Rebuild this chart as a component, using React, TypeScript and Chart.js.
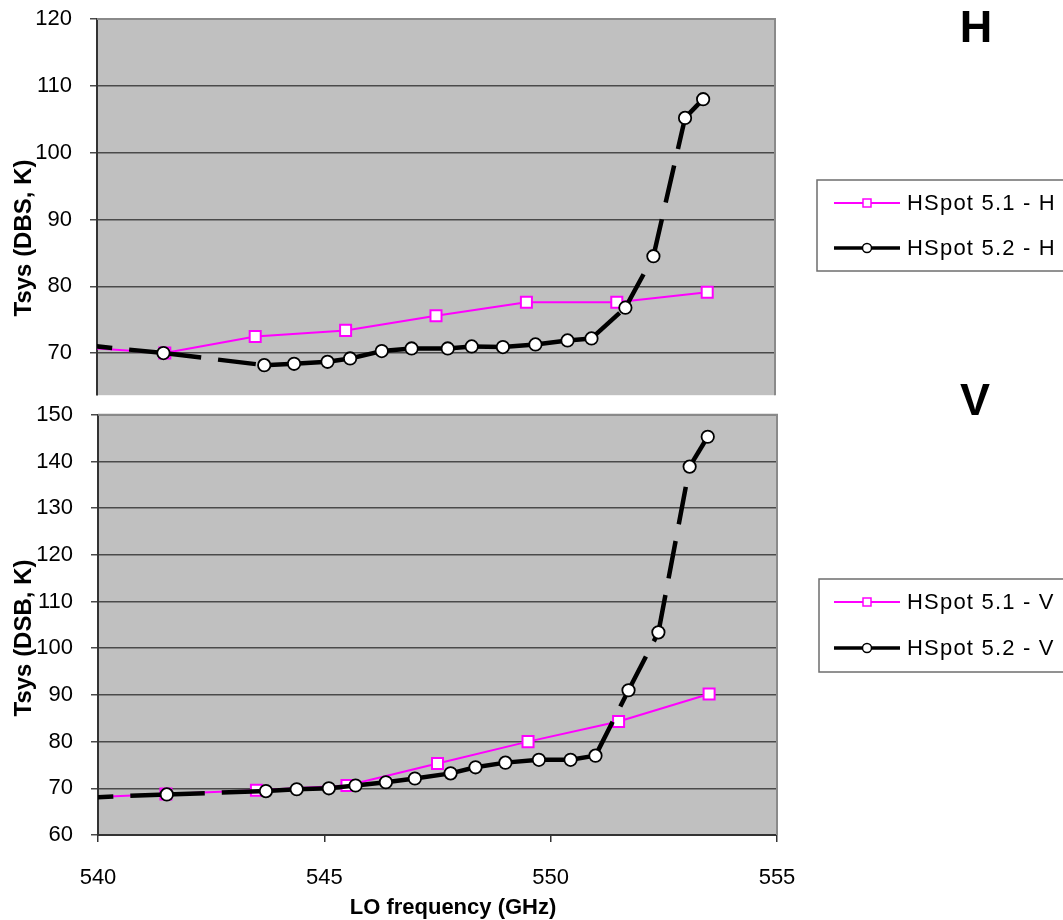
import React, { useEffect, useRef } from "react";
import { Chart, registerables } from "chart.js";

Chart.register(...registerables);

const FONT = "'Liberation Sans', Arial, Helvetica, sans-serif";
const MAGENTA = "#ff00ff";

// HSpot 5.1 predictions on a 2 GHz grid (GHz)
const freq51 = [539.5, 541.5, 543.5, 545.5, 547.5, 549.5, 551.5, 553.5];
const tsys51H = [70.9, 70.0, 72.5, 73.4, 75.6, 77.6, 77.6, 79.1];
const tsys51V = [67.9, 68.8, 69.6, 70.6, 75.3, 80.0, 84.3, 90.2];

// HSpot 5.2 predictions at the measured LO settings (GHz)
const freq52H = [539.5, 541.47, 543.7, 544.36, 545.1, 545.6, 546.3, 546.96, 547.76, 548.29, 548.98, 549.7, 550.41, 550.94, 551.69, 552.31, 553.01, 553.41];
const tsys52H = [71.35, 70.0, 68.2, 68.4, 68.7, 69.2, 70.3, 70.7, 70.7, 71.0, 70.9, 71.3, 71.9, 72.2, 76.8, 84.5, 105.2, 108.0];
const freq52V = [539.5, 541.52, 543.71, 544.39, 545.1, 545.69, 546.36, 547.0, 547.79, 548.34, 549.0, 549.74, 550.44, 550.99, 551.72, 552.38, 553.07, 553.47];
const tsys52V = [67.9, 68.7, 69.4, 69.8, 70.0, 70.6, 71.3, 72.1, 73.2, 74.5, 75.5, 76.1, 76.1, 77.0, 91.0, 103.4, 138.9, 145.3];

// Axis ranges and tick labels
const xRange = [540, 555];
const xStep = 5;
const yRangeH = [63.7, 120];
const yRangeV = [60, 150];
const yStep = 10;

const legendH = ["HSpot 5.1 - H", "HSpot 5.2 - H"];
const legendV = ["HSpot 5.1 - V", "HSpot 5.2 - V"];
const yTitleH = "Tsys (DBS, K)";
const yTitleV = "Tsys (DSB, K)";
const xTitle = "LO frequency (GHz)";

type PanelSpec = {
  height: number;
  padding: { left: number; right: number; top: number; bottom: number };
  axisWidth: number;
  yRange: number[];
  showX: boolean;
  f52: number[];
  v51: number[];
  v52: number[];
  labels: string[];
  yTitle: string;
  yTitleY: number;
  legendBox: { x: number; y: number; h: number };
  legendRows: number[];
  xTitleY?: number;
};

const pts = (xs: number[], ys: number[]) => xs.map((x, i) => ({ x, y: ys[i] }));

function drawLegend(ctx: CanvasRenderingContext2D, spec: PanelSpec) {
  const { x, y, h } = spec.legendBox;
  ctx.save();
  ctx.strokeStyle = "#6e6e6e";
  ctx.lineWidth = 1.5;
  ctx.strokeRect(x, y, 300, h);
  const rows = [
    { color: MAGENTA, width: 2, marker: "rect" },
    { color: "#000", width: 3.5, marker: "circle" },
  ];
  rows.forEach((r, i) => {
    const ry = spec.legendRows[i];
    ctx.strokeStyle = r.color;
    ctx.lineWidth = r.width;
    ctx.beginPath();
    ctx.moveTo(834, ry);
    ctx.lineTo(900, ry);
    ctx.stroke();
    ctx.fillStyle = "#fff";
    ctx.lineWidth = 1.5;
    if (r.marker === "rect") {
      ctx.fillRect(863, ry - 4, 8, 8);
      ctx.strokeRect(863, ry - 4, 8, 8);
    } else {
      ctx.beginPath();
      ctx.arc(867, ry, 4.5, 0, Math.PI * 2);
      ctx.fill();
      ctx.stroke();
    }
    ctx.fillStyle = "#000";
    ctx.font = `22px ${FONT}`;
    (ctx as any).letterSpacing = "1.2px";
    ctx.textAlign = "left";
    ctx.textBaseline = "middle";
    ctx.fillText(spec.labels[i], 907, ry + 1);
    (ctx as any).letterSpacing = "0px";
  });
  ctx.restore();
}

function decor(spec: PanelSpec) {
  return {
    id: "panelDecor",
    beforeDraw(chart: any) {
      const { ctx, chartArea: a } = chart;
      ctx.save();
      ctx.fillStyle = "#c0c0c0";
      ctx.fillRect(a.left, a.top, a.right - a.left, a.bottom - a.top);
      ctx.restore();
    },
    beforeDatasetsDraw(chart: any) {
      const { ctx, chartArea: a } = chart;
      ctx.save();
      ctx.strokeStyle = "#8a8a8a";
      ctx.lineWidth = 2;
      ctx.beginPath();
      ctx.moveTo(a.left, a.top);
      ctx.lineTo(a.right, a.top);
      ctx.lineTo(a.right, a.bottom);
      ctx.stroke();
      ctx.restore();
    },
    afterDraw(chart: any) {
      const { ctx } = chart;
      ctx.save();
      ctx.fillStyle = "#000";
      ctx.font = `bold 24px ${FONT}`;
      ctx.translate(31, spec.yTitleY);
      ctx.rotate(-Math.PI / 2);
      ctx.textAlign = "center";
      ctx.textBaseline = "alphabetic";
      ctx.fillText(spec.yTitle, 0, 0);
      ctx.restore();

      if (spec.xTitleY !== undefined) {
        ctx.save();
        ctx.fillStyle = "#000";
        ctx.font = `bold 22px ${FONT}`;
        ctx.textAlign = "center";
        ctx.textBaseline = "alphabetic";
        ctx.fillText(xTitle, 453, spec.xTitleY);
        ctx.restore();
      }
      drawLegend(ctx, spec);
    },
  };
}

function buildConfig(spec: PanelSpec): any {
  const tickFont = { family: FONT, size: 22 };
  return {
    type: "line",
    data: {
      datasets: [
        {
          label: spec.labels[0],
          data: pts(freq51, spec.v51),
          borderColor: MAGENTA,
          borderWidth: 2,
          pointStyle: "rect",
          pointRadius: 7.8,
          pointBorderWidth: 2,
          pointBackgroundColor: "#fff",
          pointBorderColor: MAGENTA,
          order: 2,
        },
        {
          label: spec.labels[1],
          data: pts(spec.f52, spec.v52),
          borderColor: "#000",
          borderWidth: 4.5,
          borderDash: [38, 17],
          pointStyle: "circle",
          pointRadius: 6.2,
          pointBorderWidth: 1.8,
          pointBackgroundColor: "#fff",
          pointBorderColor: "#000",
          order: 1,
          // each segment restarts its dash pattern at its first point
          segment: {
            borderDash: () => [38, 17],
            borderDashOffset: (c: any) => (c.p0DataIndex % 2 ? 0.01 : 0),
          },
        },
      ],
    },
    options: {
      responsive: false,
      animation: false,
      events: [],
      layout: { padding: spec.padding },
      plugins: {
        legend: { display: false },
        tooltip: { enabled: false },
        title: { display: false },
      },
      scales: {
        x: {
          type: "linear",
          min: xRange[0],
          max: xRange[1],
          display: spec.showX,
          ticks: {
            stepSize: xStep,
            font: tickFont,
            color: "#000",
            padding: 23,
            maxRotation: 0,
            callback: (v: number) => String(v),
          },
          grid: { display: true, drawOnChartArea: false, drawTicks: true, tickLength: 7, color: "#333", lineWidth: 1.5 },
          border: { display: true, color: "#333", width: 2 },
          afterFit: (s: any) => {
            if (!spec.showX) return;
            s.height = 85;
            s.paddingLeft = 0;
            s.paddingRight = 0;
          },
        },
        y: {
          type: "linear",
          min: spec.yRange[0],
          max: spec.yRange[1],
          ticks: {
            stepSize: yStep,
            includeBounds: false,
            font: tickFont,
            color: "#000",
            padding: 18,
            callback: (v: number) => String(v),
          },
          grid: { display: true, drawOnChartArea: true, drawTicks: true, tickLength: 7, color: "#4a4a4a", lineWidth: 1.5 },
          border: { display: true, color: "#333", width: 2 },
          afterFit: (s: any) => {
            s.width = spec.axisWidth;
            s.paddingTop = 0;
            s.paddingBottom = 0;
          },
        },
      },
    },
    plugins: [decor(spec)],
  };
}

const panelH: PanelSpec = {
  height: 405,
  padding: { left: 0, right: 288, top: 19, bottom: 2 },
  axisWidth: 97,
  yRange: yRangeH,
  showX: false,
  f52: freq52H,
  v51: tsys51H,
  v52: tsys52H,
  labels: legendH,
  yTitle: yTitleH,
  yTitleY: 238,
  legendBox: { x: 817, y: 180, h: 91 },
  legendRows: [203, 248],
};

const panelV: PanelSpec = {
  height: 515,
  padding: { left: 0, right: 286, top: 7, bottom: 0 },
  axisWidth: 98,
  yRange: yRangeV,
  showX: true,
  f52: freq52V,
  v51: tsys51V,
  v52: tsys52V,
  labels: legendV,
  yTitle: yTitleV,
  yTitleY: 233,
  legendBox: { x: 819, y: 174, h: 93 },
  legendRows: [197, 243],
  xTitleY: 509,
};

function PanelChart({ spec, top }: { spec: PanelSpec; top: number }) {
  const ref = useRef<HTMLCanvasElement>(null);
  useEffect(() => {
    const chart = new Chart(ref.current as HTMLCanvasElement, buildConfig(spec));
    return () => chart.destroy();
  }, [spec]);
  return (
    <canvas
      ref={ref}
      width={1063}
      height={spec.height}
      style={{ position: "absolute", left: 0, top, width: 1063, height: spec.height }}
    />
  );
}

const bigLetter: React.CSSProperties = {
  position: "absolute",
  width: 60,
  textAlign: "center",
  font: `bold 45px ${FONT}`,
  lineHeight: "1",
  color: "#000",
};

export default function App() {
  return (
    <div style={{ position: "absolute", left: 0, top: 0, width: 1063, height: 920, background: "#fff", overflow: "hidden" }}>
      <PanelChart spec={panelH} top={0} />
      <PanelChart spec={panelV} top={405} />
      <div style={{ ...bigLetter, left: 946, top: 4 }}>H</div>
      <div style={{ ...bigLetter, left: 945, top: 377 }}>V</div>
    </div>
  );
}
